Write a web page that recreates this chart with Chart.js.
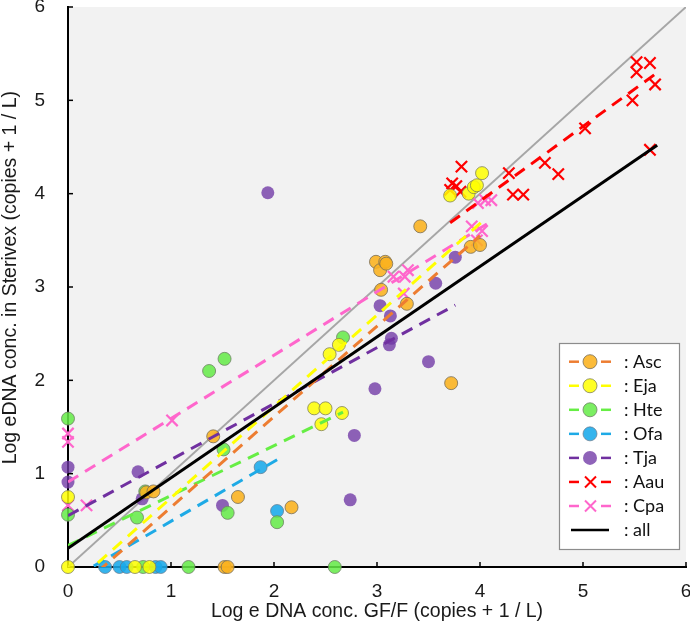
<!DOCTYPE html>
<html>
<head>
<meta charset="utf-8">
<title>eDNA Sterivex vs GF/F</title>
<script src="https://cdn.jsdelivr.net/npm/chart.js@4.4.1/dist/chart.umd.min.js"></script>
<style>
  html, body { margin: 0; padding: 0; background: #fff; }
  #chart { display: block; }
</style>
</head>
<body>
<canvas id="chart" width="690" height="627"></canvas>
<script>
// measured points, [log GF/F, log Sterivex]
const asc = [[0.76, 0.80], [0.83, 0.81], [1.41, 1.40], [1.52, 0], [1.55, 0], [1.65, 0.75], [2.17, 0.64],
  [2.99, 3.27], [3.03, 3.18], [3.08, 3.27], [3.09, 3.25], [3.04, 2.97], [3.29, 2.82], [3.42, 3.65],
  [3.91, 3.43], [4.00, 3.45], [3.72, 1.97]];
const eja = [[0, 0], [0, 0.75], [0.65, 0], [0.79, 0], [2.39, 1.70], [2.50, 1.70], [2.46, 1.53], [2.66, 1.65],
  [2.54, 2.28], [2.63, 2.38], [3.71, 3.98], [3.89, 4.00], [3.94, 4.07], [3.97, 4.09], [4.02, 4.22]];
const hte = [[0, 1.59], [0, 0.56], [0.67, 0.53], [0.75, 0.81], [0.73, 0], [1.17, 0], [1.37, 2.10], [1.52, 2.23],
  [1.51, 1.26], [1.55, 0.58], [2.03, 0.48], [2.59, 0], [2.67, 2.46]];
const ofa = [[0.36, 0], [0.50, 0], [0.57, 0], [0.85, 0], [0.90, 0], [1.87, 1.07], [2.03, 0.60]];
const tja = [[0, 1.07], [0, 0.91], [0.68, 1.02], [0.72, 0.73], [1.50, 0.66], [1.94, 4.01], [2.74, 0.72],
  [2.78, 1.41], [2.98, 1.91], [3.03, 2.80], [3.13, 2.69], [3.14, 2.45], [3.12, 2.38], [3.50, 2.20],
  [3.57, 3.04], [3.76, 3.32]];
const aau = [[3.71, 4.04], [3.73, 4.11], [3.77, 4.08], [3.81, 4.02], [3.82, 4.29], [4.28, 4.22], [4.32, 3.99],
  [4.42, 3.99], [4.63, 4.33], [4.76, 4.21], [5.02, 4.70], [5.48, 5.00], [5.52, 5.30], [5.52, 5.41],
  [5.65, 5.40], [5.70, 5.17], [5.65, 4.47]];
const cpa = [[0, 1.43], [0, 1.34], [0, 0.66], [0.18, 0.66], [1.01, 1.57], [3.16, 3.11], [3.27, 3.11],
  [3.30, 3.18], [3.26, 2.93], [3.92, 3.65], [4.02, 3.60], [3.97, 3.50], [3.98, 3.90], [4.05, 3.93], [4.11, 3.93]];

// regression lines: [intercept, slope, x from, x to]
const ascFit = [-0.33, 0.97, 0, 4.00];
const ejaFit = [-0.24, 0.98, 0, 4.02];
const hteFit = [0.23, 0.535, 0, 2.67];
const ofaFit = [-0.15, 0.64, 0.25, 2.03];
const tjaFit = [0.55, 0.60, 0, 3.76];
const aauFit = [0.72, 0.80, 3.71, 5.70];
const cpaFit = [0.91, 0.68, 0, 4.11];
const allFit = [0.20, 0.755, 0, 5.72];

const names = ['Asc', 'Eja', 'Hte', 'Ofa', 'Tja', 'Aau', 'Cpa', 'all'];
const axisTicks = [0, 1, 2, 3, 4, 5, 6];
const yTitle = 'Log eDNA conc. in Sterivex (copies + 1 / L)';
const xTitle = 'Log e DNA conc. GF/F (copies + 1 / L)';

// styling per species
const species = [
  { name: 'Asc', pts: asc, fit: ascFit, fill: 'rgba(250,178,30,0.88)', line: '#ed7d31', edge: 'rgba(120,110,90,0.8)', style: 'circle' },
  { name: 'Eja', pts: eja, fit: ejaFit, fill: 'rgba(255,255,0,0.85)', line: '#ffff00', edge: 'rgba(130,130,90,0.8)', style: 'circle' },
  { name: 'Hte', pts: hte, fit: hteFit, fill: 'rgba(100,235,70,0.85)', line: '#66ee44', edge: 'rgba(110,130,100,0.8)', style: 'circle' },
  { name: 'Ofa', pts: ofa, fit: ofaFit, fill: 'rgba(25,170,235,0.88)', line: '#1eaae6', edge: 'rgba(100,120,140,0.7)', style: 'circle' },
  { name: 'Tja', pts: tja, fit: tjaFit, fill: 'rgba(112,55,165,0.78)', line: '#7030a0', edge: 'rgba(112,55,165,0.0)', style: 'circle' },
  { name: 'Aau', pts: aau, fit: aauFit, fill: '#ff0000', line: '#ff0000', edge: '#ff0000', style: 'crossRot' },
  { name: 'Cpa', pts: cpa, fit: cpaFit, fill: '#ff66cc', line: '#ff66cc', edge: '#ff66cc', style: 'crossRot' }
];

function toXY(arr) {
  return arr.map(p => ({ x: p[0], y: p[1] }));
}
function fitLine(f) {
  return [{ x: f[2], y: f[0] + f[1] * f[2] }, { x: f[3], y: f[0] + f[1] * f[3] }];
}

const datasets = [];
// 1:1 line
datasets.push({
  type: 'line', data: [{ x: 0, y: 0 }, { x: 6, y: 6 }], borderColor: '#a6a6a6', borderWidth: 2,
  pointRadius: 0, fill: false, order: 3
});
species.forEach(s => {
  const cross = s.style === 'crossRot';
  datasets.push({
    label: s.name, data: toXY(s.pts), pointStyle: s.style,
    pointRadius: cross ? 8 : 6.5,
    backgroundColor: s.fill, borderColor: s.edge, borderWidth: cross ? 2.2 : 1,
    clip: false, order: 2
  });
});
species.forEach(s => {
  datasets.push({
    type: 'line', data: fitLine(s.fit), borderColor: s.line, borderWidth: 3, borderDash: [12, 8],
    pointRadius: 0, fill: false, order: 1
  });
});
datasets.push({
  type: 'line', data: fitLine(allFit), borderColor: '#000', borderWidth: 3,
  pointRadius: 0, fill: false, order: 0
});

// gray plot background
const bgPlugin = {
  id: 'bg',
  beforeDraw(chart) {
    const a = chart.chartArea, c = chart.ctx;
    c.save();
    c.fillStyle = '#f2f2f2';
    c.fillRect(a.left, a.top, a.right - a.left, a.bottom - a.top);
    c.restore();
  }
};

// inward tick marks + y axis title (sits a little above centre in the original)
const tickPlugin = {
  id: 'inTicks',
  afterDraw(chart) {
    const c = chart.ctx, a = chart.chartArea;
    const xs = chart.scales.x, ys = chart.scales.y;
    c.save();
    c.strokeStyle = '#000';
    c.lineWidth = 1.5;
    axisTicks.forEach(v => {
      const px = xs.getPixelForValue(v), py = ys.getPixelForValue(v);
      if (v > 0) {
        c.beginPath(); c.moveTo(px, a.bottom); c.lineTo(px, a.bottom - 5); c.stroke();
        c.beginPath(); c.moveTo(a.left, py); c.lineTo(a.left + 5, py); c.stroke();
      }
    });
    c.translate(11, ys.getPixelForValue(3.1));
    c.rotate(-Math.PI / 2);
    c.fillStyle = '#1a1a1a';
    c.font = '19.5px "Liberation Sans", Arial, sans-serif';
    c.textAlign = 'center';
    c.textBaseline = 'middle';
    c.fillText(yTitle, 0, 0);
    c.restore();
  }
};

// legend box inside the plot
const legendPlugin = {
  id: 'boxLegend',
  afterDraw(chart) {
    const c = chart.ctx;
    const left = 559, top = 343, w = 120, h = 206;
    c.save();
    c.fillStyle = '#fff';
    c.fillRect(left, top, w, h);
    c.strokeStyle = '#8c8c8c';
    c.lineWidth = 1.2;
    c.strokeRect(left + 0.5, top + 0.5, w, h);
    names.forEach((n, i) => {
      const y = 361.7 + i * 24.05;
      const s = species[i];
      if (s) {
        c.strokeStyle = s.line;
        c.lineWidth = 2.5;
        c.beginPath(); c.moveTo(569, y); c.lineTo(579, y); c.stroke();
        c.beginPath(); c.moveTo(601, y); c.lineTo(611, y); c.stroke();
        if (s.style === 'circle') {
          c.fillStyle = s.fill;
          c.beginPath(); c.arc(590, y, 7, 0, Math.PI * 2); c.fill();
          if (s.name !== 'Tja') { c.strokeStyle = s.edge; c.lineWidth = 1; c.stroke(); }
        } else {
          c.strokeStyle = s.line;
          c.lineWidth = 2;
          c.beginPath();
          c.moveTo(585, y - 5.5); c.lineTo(596, y + 5.5);
          c.moveTo(596, y - 5.5); c.lineTo(585, y + 5.5);
          c.stroke();
        }
      } else {
        c.strokeStyle = '#000';
        c.lineWidth = 2.5;
        c.beginPath(); c.moveTo(571, y); c.lineTo(609, y); c.stroke();
      }
      c.fillStyle = '#111';
      c.font = '18px Lato, "Open Sans", sans-serif';
      c.textAlign = 'left';
      c.textBaseline = 'middle';
      c.fillText(': ' + n, 624, y);
    });
    c.restore();
  }
};

const tickFont = { family: '"Liberation Sans", Arial, sans-serif', size: 19 };
const titleFont = { family: '"Liberation Sans", Arial, sans-serif', size: 19.5 };

const ctx = document.getElementById('chart').getContext('2d');
const chart = new Chart(ctx, {
  type: 'scatter',
  data: { datasets: datasets },
  options: {
    responsive: false,
    animation: false,
    events: [],
    layout: { autoPadding: false, padding: { top: 7, right: 4, left: 0, bottom: 0 } },
    plugins: { legend: { display: false }, tooltip: { enabled: false } },
    scales: {
      x: {
        type: 'linear', min: 0, max: 6,
        ticks: { stepSize: 1, padding: 13, color: '#1a1a1a', font: tickFont },
        grid: { display: false, drawTicks: false },
        border: { display: true, color: '#000', width: 2 },
        title: { display: true, text: xTitle, color: '#1a1a1a', font: titleFont, padding: { top: 0, bottom: 4 } },
        afterFit(s) { s.height = 60; s.paddingLeft = 0; s.paddingRight = 0; }
      },
      y: {
        type: 'linear', min: 0, max: 6,
        ticks: { stepSize: 1, padding: 23, color: '#1a1a1a', font: tickFont },
        grid: { display: false, drawTicks: false },
        border: { display: true, color: '#000', width: 2 },
        title: { display: false },
        afterFit(s) { s.width = 68; s.paddingTop = 0; s.paddingBottom = 0; }
      }
    }
  },
  plugins: [bgPlugin, tickPlugin, legendPlugin]
});
</script>
</body>
</html>
